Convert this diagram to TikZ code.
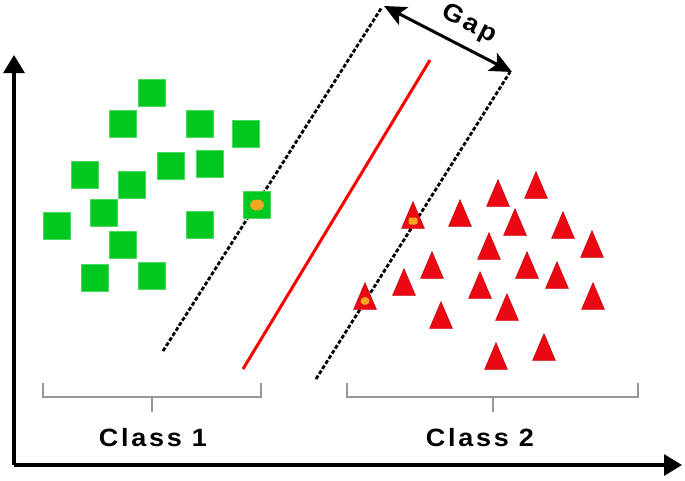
\documentclass[tikz,border=0pt]{standalone}
\usepackage{fontspec}
\newfontfamily\lblfont[LetterSpace=10]{Liberation Sans}
\usetikzlibrary{arrows.meta,calc}
\definecolor{sqgreen}{RGB}{0,200,30}
\definecolor{trired}{RGB}{236,8,18}
\definecolor{dotorange}{RGB}{245,165,30}
\definecolor{brgray}{RGB}{150,150,150}
\newcommand{\widetxt}[1]{\scalebox{1.08}[1]{#1}}
\tikzset{
  sq/.style={rectangle,fill=sqgreen,draw=sqgreen!70!white,line width=0.4pt,minimum size=27pt,inner sep=0pt},
  axis/.style={line width=3.2pt,-{Triangle[length=18pt,width=21pt]}},
  margin/.style={line width=2.8pt,dash pattern=on 4pt off 2pt},
  hyper/.style={line width=3pt,draw=red},
  bracket/.style={line width=2.5pt,draw=brgray},
  lbl/.style={font=\lblfont\bfseries\fontsize{25}{30}\selectfont,inner sep=0pt},
  gaparrow/.style={line width=3pt,{Stealth[length=22pt,width=20pt,inset=5pt]}-{Stealth[length=22pt,width=20pt,inset=5pt]}}
}
\begin{document}
\begin{tikzpicture}[x=1pt,y=-1pt]
\useasboundingbox (0,0) rectangle (685,480);
% axes
\coordinate (O) at (14,465);
\coordinate (Ytip) at (14,55);
\coordinate (Xtip) at (682,465);
\draw[axis] (O) -- (Ytip);
\draw[axis] (O) -- (Xtip);
% margins
\coordinate (m1a) at (163,351);
\coordinate (m1b) at (382,7);
\coordinate (m2a) at (316,379);
\coordinate (m2b) at (510,72);
\draw[margin] (m1a) -- (m1b);
\draw[margin] (m2a) -- (m2b);
% hyperplane
\coordinate (ha) at (243,369);
\coordinate (hb) at (430,60);
\draw[hyper] (ha) -- (hb);
% class 1 squares
\foreach \x/\y [count=\i] in {152/93,123/124,200/124,246/134,85/175,171/166,210/164,132/185,104/213,57/226,200/225,123/245,95/278,152/276}
  \node[sq] (sq\i) at (\x,\y) {};
\node[sq] (sv1) at (257,205) {};
\fill[dotorange] (sv1.center) ellipse (7pt and 5.5pt);
% class 2 triangles
\foreach \x/\y in {460/213,498/193,536/185,515/222,563/225,489/246,592/244,432/265,527/265,557/275,404/282,480/285,593/296,441/315,507/307,544/347,496/356,413/215,365/296}
  \filldraw[fill=trired,draw=trired!75!black,line width=0.4pt] (\x-11.5,\y+13.5) -- (\x,\y-13.5) -- (\x+11.5,\y+13.5) -- cycle;
\coordinate (sv2) at (413,221);
\coordinate (sv3) at (365,301);
\fill[dotorange,rounded corners=2pt] ($(sv2)+(-4.5,-3.5)$) rectangle ($(sv2)+(4.5,3.5)$);
\fill[dotorange] (sv3) ellipse (4.5pt and 4pt);
% gap arrow
\coordinate (ga) at (384,6);
\coordinate (gb) at (512,72);
\draw[gaparrow] (ga) -- (gb);
\node[lbl,rotate=-27] (gap) at (469,24) {\widetxt{Gap}};
% brackets
\draw[bracket] (43,383) -- (43,397) -- (261,397) -- (261,383);
\draw[bracket] (152,397) -- (152,412);
\draw[bracket] (347,383) -- (347,397) -- (638,397) -- (638,383);
\draw[bracket] (493,397) -- (493,412);
\node[lbl] (c1) at (153,438) {\widetxt{Class 1}};
\node[lbl] (c2) at (480,438) {\widetxt{Class 2}};
\end{tikzpicture}
\end{document}
